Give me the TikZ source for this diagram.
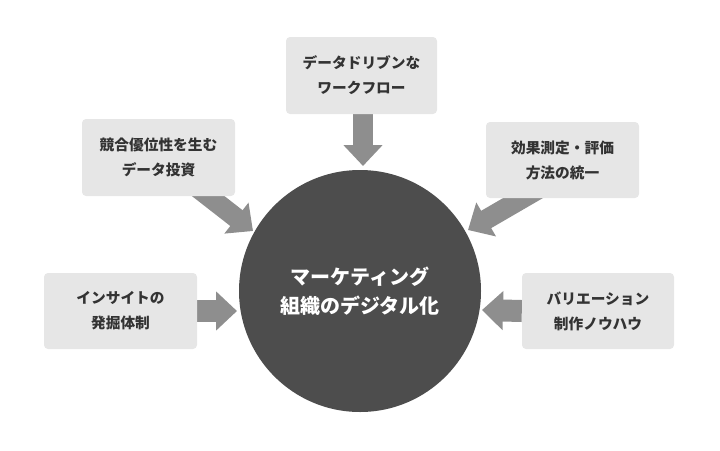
\documentclass[tikz,border=0pt]{standalone}
\usepackage{fontspec}
\newfontfamily\jp{Noto Sans CJK JP}
\usetikzlibrary{arrows.meta,backgrounds,calc}
\definecolor{boxfill}{HTML}{E6E6E6}
\definecolor{arrowc}{HTML}{8E8E8E}
\definecolor{circc}{HTML}{4D4D4D}
\definecolor{txt}{HTML}{333333}
\begin{document}
\begin{tikzpicture}[x=1pt,y=-1pt,
  box/.style={fill=boxfill,rounded corners=4pt,inner sep=0pt,text=txt,
    font=\jp\bfseries\fontsize{14.7}{25}\selectfont,align=center},
  blk/.style={draw=arrowc,line width=20pt,line cap=butt,
    -{Triangle[width=38pt,length=21pt]}},
]
\useasboundingbox (0,0) rectangle (720,450);
\node[fill=circc,circle,minimum size=242pt,inner sep=0pt,text=white,
  font=\jp\bfseries\fontsize{20}{29}\selectfont,align=center] (c) at (360,291)
  {マーケティング\\組織のデジタル化};
\node[box,minimum width=151pt,minimum height=77pt] (top) at (361.5,75.5) {データドリブンな\\ワークフロー};
\node[box,minimum width=153pt,minimum height=77pt] (tl) at (158.5,157.5) {競合優位性を生む\\データ投資};
\node[box,minimum width=153pt,minimum height=76pt] (tr) at (562.5,160) {効果測定・評価\\方法の統一};
\node[box,minimum width=153pt,minimum height=76pt] (l) at (120.5,311) {インサイトの\\発掘体制};
\node[box,minimum width=152pt,minimum height=76pt] (r) at (598,311) {バリエーション\\制作ノウハウ};
\coordinate (tlTip) at (253,231);
\coordinate (trTip) at (468,230);
\coordinate (topTip) at (363,166);
\coordinate (lTip) at (237,311);
\coordinate (rTip) at (482,310);
\begin{scope}[on background layer]
\draw[blk] ($(top.south)+(1.5,0)$) -- (topTip);
\draw[blk] ($(tl.south)+(37,-10)$) -- (tlTip);
\draw[blk] ($(tr.south)+(-22.5,-10)$) -- (trTip);
\draw[blk,line width=22pt] (l.east) -- (lTip);
\draw[blk,line width=22pt] (r.west) -- (rTip);
\end{scope}
\end{tikzpicture}
\end{document}
